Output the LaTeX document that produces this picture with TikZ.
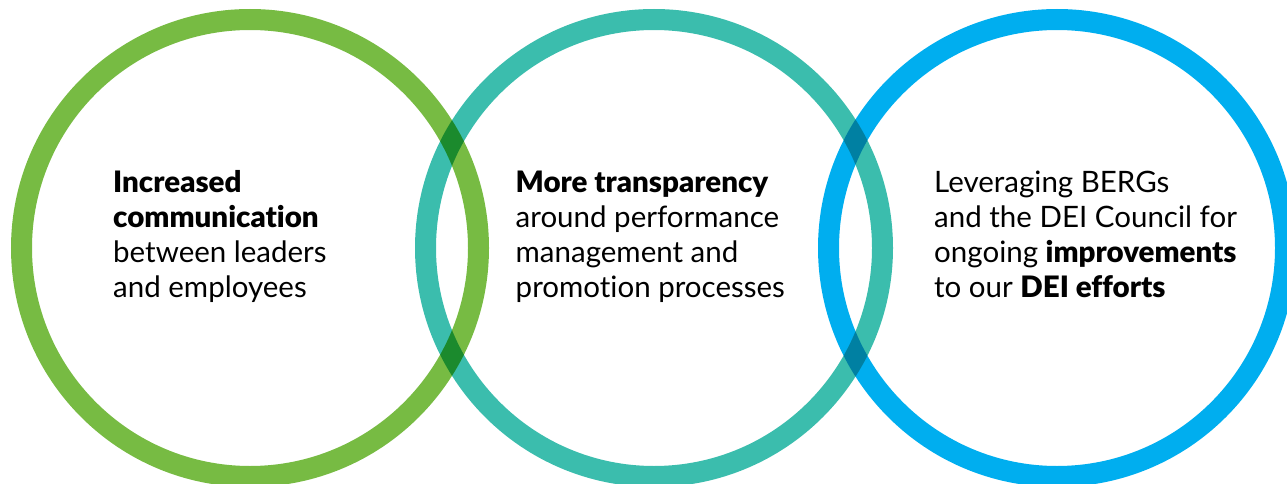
\documentclass[tikz,border=0pt]{standalone}
\usepackage{fontspec}
\setmainfont{Lato}[BoldFont={Lato Black},Ligatures=CommonOff]
\definecolor{cgreen}{HTML}{77BB43}
\definecolor{cteal}{HTML}{3BBDAD}
\definecolor{cblue}{HTML}{00AEEF}
\begin{document}
\begin{tikzpicture}[x=1pt,y=-1pt,
  ring/.style={line width=21pt},
  label/.style={anchor=base west,align=left,inner sep=0pt,font=\fontsize{29.5}{34.7}\selectfont}]
\useasboundingbox (0,0) rectangle (1287,484);
\clip (0,0) rectangle (1287,484);
\begin{scope}[blend mode=multiply]
\draw[ring,cgreen] (250,248) circle[radius=228.5];
\draw[ring,cteal] (654,248) circle[radius=228.5];
\draw[ring,cblue] (1057,248) circle[radius=228.5];
\end{scope}
\node[label] (t1) at (113,297) {\textbf{Increased}\\\textbf{communication}\\between leaders\\and employees};
\node[label] (t2) at (515.5,297) {\textbf{More transparency}\\around performance\\management and\\promotion processes};
\node[label] (t3) at (934,297) {Leveraging BERGs\\and the DEI Council for\\ongoing \textbf{improvements}\\to our \textbf{DEI efforts}};
\end{tikzpicture}
\end{document}
